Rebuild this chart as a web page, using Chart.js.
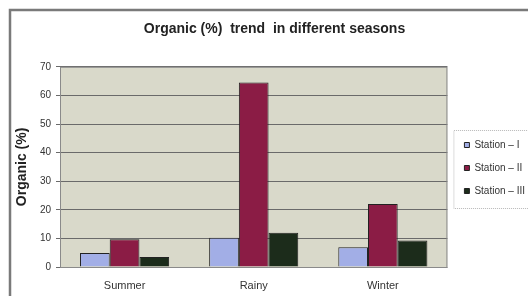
<!DOCTYPE html>
<html>
<head>
<meta charset="utf-8">
<script src="https://cdn.jsdelivr.net/npm/chart.js@4"></script>
<style>
  html, body { margin: 0; padding: 0; background: #fff; }
  #wrap { width: 528px; height: 296px; }
</style>
</head>
<body>
<div id="wrap"><canvas id="seasonChart" width="528" height="296"></canvas></div>
<script>
const seasons = ['Summer', 'Rainy', 'Winter'];
const station1 = [4.9, 10.2, 6.9];
const station2 = [9.7, 64.5, 22];
const station3 = [3.5, 12, 9.3];
const stationNames = ['Station – I', 'Station – II', 'Station – III'];
const yTicks = [0, 10, 20, 30, 40, 50, 60, 70];

// frame round the whole chart, plot background and a box round the legend
const decorations = {
    id: 'decorations',
    beforeDraw(chart) {
        const ctx = chart.ctx;
        const a = chart.chartArea;
        ctx.save();
        ctx.fillStyle = '#d9d9ca';
        ctx.fillRect(a.left, a.top, a.right - a.left, a.bottom - a.top);
        ctx.restore();
    },
    afterDraw(chart) {
        const ctx = chart.ctx;
        const a = chart.chartArea;
        ctx.save();
        ctx.strokeStyle = '#8a8a8a';
        ctx.lineWidth = 1;
        ctx.strokeRect(a.left + 0.5, a.top + 0.5, a.right - a.left - 1, a.bottom - a.top);
        ctx.strokeStyle = '#7a7a7a';
        ctx.lineWidth = 2.5;
        ctx.strokeRect(10, 10, 540, 320);

        const boxes = chart.legend.legendHitBoxes;
        if (boxes && boxes.length) {
            const left = Math.min(...boxes.map(b => b.left)) - 11;
            const top = Math.min(...boxes.map(b => b.top)) - 10;
            const bottom = Math.max(...boxes.map(b => b.top + b.height)) + 12;
            ctx.strokeStyle = '#b8b8b8';
            ctx.lineWidth = 1;
            ctx.setLineDash([1, 1]);
            ctx.strokeRect(left + 0.5, top + 0.5, 600, bottom - top);
        }
        ctx.restore();
    }
};

const font = (size, weight) => ({ family: 'Liberation Sans', size: size, weight: weight || 'normal' });

new Chart(document.getElementById('seasonChart'), {
    type: 'bar',
    data: {
        labels: seasons,
        datasets: [
            { label: stationNames[0], data: station1, backgroundColor: '#a2aee6' },
            { label: stationNames[1], data: station2, backgroundColor: '#8b1c45' },
            { label: stationNames[2], data: station3, backgroundColor: '#1c2c1b' }
        ].map(ds => Object.assign(ds, {
            borderColor: '#222',
            borderWidth: 1,
            categoryPercentage: 0.69,
            barPercentage: 1
        }))
    },
    options: {
        responsive: false,
        animation: false,
        layout: { padding: { left: 14, right: -7, top: 6, bottom: 2 } },
        plugins: {
            title: {
                display: true,
                text: 'Organic (%)  trend  in different seasons',
                color: '#222',
                font: font(14, 'bold'),
                padding: { top: 15, bottom: 29 }
            },
            legend: {
                position: 'right',
                align: 'center',
                // empty title only pushes the items down a little
                title: { display: true, text: ' ', font: font(10), padding: 12 },
                labels: {
                    boxWidth: 5,
                    boxHeight: 5,
                    padding: 13,
                    color: '#333',
                    font: font(10)
                }
            },
            tooltip: { enabled: false }
        },
        scales: {
            x: {
                grid: { display: false, drawTicks: false },
                border: { display: false },
                ticks: {
                    padding: 12,
                    color: '#333',
                    font: font(11)
                },
                afterFit(axis) { axis.height = 27; }
            },
            y: {
                min: 0,
                max: 70,
                title: {
                    display: true,
                    text: 'Organic (%)',
                    color: '#222',
                    font: font(14, 'bold'),
                    padding: { top: 0, bottom: 4 }
                },
                grid: { color: '#6a6a6a', tickLength: 4 },
                border: { display: false },
                afterBuildTicks(axis) { axis.ticks = yTicks.map(v => ({ value: v })); },
                ticks: {
                    padding: 5,
                    color: '#333',
                    font: font(10)
                },
                afterFit(axis) { axis.width = 46; }
            },
            gap: {
                position: 'right',
                display: true,
                grid: { display: false },
                border: { display: false },
                ticks: { display: false },
                afterFit(axis) { axis.width = 4; }
            }
        }
    },
    plugins: [decorations]
});
</script>
</body>
</html>
